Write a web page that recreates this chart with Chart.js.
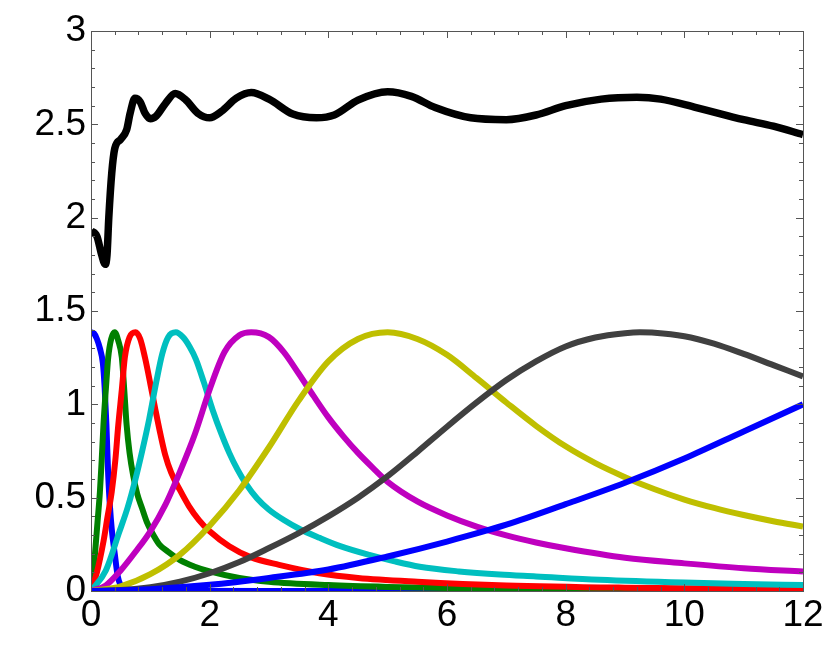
<!DOCTYPE html>
<html>
<head>
<meta charset="utf-8">
<script src="https://cdn.jsdelivr.net/npm/chart.js@4/dist/chart.umd.min.js"></script>
<style>
  html, body { margin: 0; padding: 0; background: #fff; }
  #wrap { width: 831px; height: 651px; }
</style>
</head>
<body>
<div id="wrap"><canvas id="chart" width="831" height="651"></canvas></div>
<script>
// axis ticks
const xTicks = [0, 2, 4, 6, 8, 10, 12];
const yTicks = [0, 0.5, 1, 1.5, 2, 2.5, 3];

// black (top curve)
const blackX = [0, 0.1, 0.18, 0.24, 0.27, 0.3, 0.35, 0.4, 0.5, 0.6, 0.66, 0.74, 0.83, 0.91, 1.0, 1.1, 1.25, 1.42, 1.6, 1.8, 2.0, 2.2, 2.45, 2.7, 3.0, 3.4, 3.8, 4.1, 4.5, 5.0, 5.4, 5.8, 6.4, 7.0, 7.5, 8.0, 8.6, 9.2, 9.6, 10.2, 11.0, 11.5, 12];
const blackY = [1.93, 1.9, 1.8, 1.75, 1.8, 2.0, 2.24, 2.37, 2.42, 2.47, 2.56, 2.64, 2.62, 2.56, 2.53, 2.545, 2.61, 2.665, 2.63, 2.56, 2.535, 2.57, 2.64, 2.67, 2.635, 2.555, 2.535, 2.55, 2.63, 2.675, 2.65, 2.59, 2.535, 2.525, 2.55, 2.6, 2.635, 2.645, 2.635, 2.59, 2.525, 2.49, 2.445];

// blue, first peak at 0
const blue1X = [0, 0.05, 0.1, 0.15, 0.2, 0.23, 0.26, 0.29, 0.32, 0.35, 0.4, 0.45, 0.5, 0.6, 1, 3, 6.4];
const blue1Y = [1.386, 1.38, 1.35, 1.3, 1.22, 1.09, 0.89, 0.62, 0.45, 0.33, 0.2, 0.08, 0.03, 0.01, 0.002, 0, 0];

// green
const greenX = [0, 0.04, 0.07, 0.11, 0.15, 0.18, 0.21, 0.25, 0.29, 0.34, 0.4, 0.46, 0.52, 0.56, 0.6, 0.65, 0.71, 0.78, 0.86, 0.94, 1.02, 1.15, 1.3, 1.5, 1.75, 2, 2.5, 3, 4, 5, 6, 8, 10, 12];
const greenY = [0, 0.1, 0.21, 0.37, 0.53, 0.7, 0.89, 1.08, 1.25, 1.35, 1.386, 1.34, 1.25, 1.08, 0.89, 0.74, 0.62, 0.52, 0.444, 0.37, 0.318, 0.25, 0.21, 0.165, 0.13, 0.105, 0.07, 0.05, 0.032, 0.022, 0.016, 0.01, 0.007, 0.005];

// red
const redX = [0, 0.1, 0.21, 0.28, 0.35, 0.41, 0.46, 0.52, 0.57, 0.65, 0.75, 0.83, 0.91, 1.0, 1.08, 1.17, 1.25, 1.35, 1.5, 1.65, 1.82, 2.0, 2.33, 2.7, 3.17, 3.85, 4.5, 5.5, 7, 9, 12];
const redY = [0, 0.1, 0.265, 0.4, 0.533, 0.7, 0.89, 1.08, 1.25, 1.36, 1.386, 1.35, 1.25, 1.11, 0.98, 0.84, 0.73, 0.635, 0.54, 0.455, 0.38, 0.32, 0.24, 0.18, 0.14, 0.095, 0.07, 0.05, 0.03, 0.018, 0.01];

// cyan
const cyanX = [0, 0.25, 0.47, 0.62, 0.75, 0.87, 0.98, 1.1, 1.2, 1.3, 1.43, 1.55, 1.66, 1.77, 1.9, 2.05, 2.2, 2.33, 2.47, 2.61, 2.8, 3.0, 3.25, 3.5, 3.85, 4.2, 4.69, 5.1, 5.54, 6.2, 6.89, 7.5, 8.57, 10, 11, 12];
const cyanY = [0, 0.11, 0.31, 0.45, 0.6, 0.76, 0.92, 1.12, 1.27, 1.36, 1.386, 1.36, 1.31, 1.24, 1.12, 0.97, 0.84, 0.74, 0.65, 0.575, 0.495, 0.435, 0.38, 0.335, 0.285, 0.24, 0.193, 0.16, 0.13, 0.105, 0.088, 0.078, 0.06, 0.045, 0.038, 0.032];

// magenta
const magentaX = [0, 0.25, 0.5, 0.75, 1, 1.25, 1.5, 1.75, 2, 2.25, 2.5, 2.7, 3, 3.25, 3.5, 3.75, 4, 4.25, 4.5, 4.75, 5, 5.5, 6, 6.5, 7, 7.5, 8, 9, 10, 11, 12];
const magentaY = [0, 0.03, 0.11, 0.21, 0.32, 0.46, 0.64, 0.84, 1.08, 1.28, 1.37, 1.386, 1.36, 1.28, 1.165, 1.045, 0.93, 0.83, 0.74, 0.66, 0.585, 0.48, 0.405, 0.345, 0.298, 0.26, 0.229, 0.178, 0.148, 0.122, 0.104];

// yellow
const yellowX = [0, 0.5, 1, 1.5, 2, 2.5, 3, 3.5, 4, 4.5, 5, 5.5, 6, 6.5, 7, 7.5, 8, 8.5, 9, 9.5, 10, 10.5, 11, 11.5, 12];
const yellowY = [0, 0.025, 0.09, 0.195, 0.35, 0.54, 0.77, 1.02, 1.23, 1.35, 1.386, 1.35, 1.265, 1.14, 1.01, 0.885, 0.775, 0.685, 0.61, 0.545, 0.49, 0.445, 0.407, 0.374, 0.345];

// dark gray
const grayX = [0, 0.5, 1, 1.5, 2, 2.5, 3, 3.5, 4, 4.5, 5, 5.5, 6, 6.5, 7, 7.5, 8, 8.5, 9, 9.25, 9.5, 10, 10.5, 11, 11.5, 12];
const grayY = [0, 0.005, 0.02, 0.05, 0.095, 0.155, 0.23, 0.31, 0.4, 0.5, 0.615, 0.745, 0.88, 1.01, 1.13, 1.23, 1.31, 1.358, 1.381, 1.386, 1.384, 1.365, 1.325, 1.27, 1.21, 1.15];

// blue, rising at the end
const blue2X = [0, 1, 2, 3, 4, 5, 6, 7, 8, 9, 10, 11, 12];
const blue2Y = [0, 0.01, 0.033, 0.07, 0.115, 0.185, 0.265, 0.355, 0.465, 0.58, 0.71, 0.855, 1.0];

function pts(xs, ys) {
  return xs.map((x, i) => ({x: x, y: ys[i]}));
}

const series = [
  {x: blue1X, y: blue1Y, c: '#0000ff', w: 6},
  {x: greenX, y: greenY, c: '#008000', w: 6},
  {x: redX, y: redY, c: '#ff0000', w: 6},
  {x: cyanX, y: cyanY, c: '#00bfbf', w: 6},
  {x: magentaX, y: magentaY, c: '#bf00bf', w: 6},
  {x: yellowX, y: yellowY, c: '#bfbf00', w: 6},
  {x: grayX, y: grayY, c: '#404040', w: 6},
  {x: blue2X, y: blue2Y, c: '#0000ff', w: 6},
  {x: blackX, y: blackY, c: '#000000', w: 7.5}
];

const datasets = series.map((s, i) => ({
  data: pts(s.x, s.y),
  borderColor: s.c,
  borderWidth: s.w,
  pointRadius: 0,
  fill: false,
  cubicInterpolationMode: 'monotone',
  order: series.length - i
}));

// inward ticks on all four sides plus the frame
const innerTicks = {
  id: 'innerTicks',
  afterDraw(chart) {
    const {ctx, chartArea: a, scales} = chart;
    const xs = scales.x, ys = scales.y;
    ctx.save();
    ctx.strokeStyle = '#555';
    ctx.lineWidth = 1;
    ctx.beginPath();
    for (let k = 0; k <= 30; k++) {
      const v = k * 0.4;
      const px = Math.round(xs.getPixelForValue(v)) + 0.5;
      const len = (k % 5 === 0) ? 7 : 4;
      ctx.moveTo(px, a.bottom); ctx.lineTo(px, a.bottom - len);
      ctx.moveTo(px, a.top); ctx.lineTo(px, a.top + len);
    }
    for (let k = 0; k <= 30; k++) {
      const v = k * 0.1;
      const py = Math.round(ys.getPixelForValue(v)) + 0.5;
      const len = (k % 5 === 0) ? 7 : 4;
      ctx.moveTo(a.left, py); ctx.lineTo(a.left + len, py);
      ctx.moveTo(a.right, py); ctx.lineTo(a.right - len, py);
    }
    ctx.stroke();
    ctx.strokeRect(Math.round(a.left) + 0.5, Math.round(a.top) + 0.5,
      Math.round(a.right - a.left), Math.round(a.bottom - a.top));
    ctx.restore();
  }
};

const font = {family: '"Liberation Sans", Arial, Helvetica, sans-serif', size: 37};

new Chart(document.getElementById('chart'), {
  type: 'line',
  data: {datasets: datasets},
  options: {
    responsive: false,
    animation: false,
    layout: {padding: {top: 31, right: 28, left: 0, bottom: 0}},
    plugins: {legend: {display: false}, tooltip: {enabled: false}},
    scales: {
      x: {
        type: 'linear',
        min: 0, max: 12,
        afterFit(s) { s.height = 60; },
        afterBuildTicks(s) { s.ticks = xTicks.map(v => ({value: v})); },
        grid: {display: false, drawTicks: false},
        border: {display: false},
        ticks: {font: font, color: '#000', padding: 3, maxRotation: 0,
          callback: v => String(v)}
      },
      y: {
        type: 'linear',
        min: 0, max: 3,
        afterFit(s) { s.width = 91; },
        afterBuildTicks(s) { s.ticks = yTicks.map(v => ({value: v})); },
        grid: {display: false, drawTicks: false},
        border: {display: false},
        ticks: {font: font, color: '#000', padding: 5,
          callback: v => String(v)}
      }
    }
  },
  plugins: [innerTicks]
});
</script>
</body>
</html>
